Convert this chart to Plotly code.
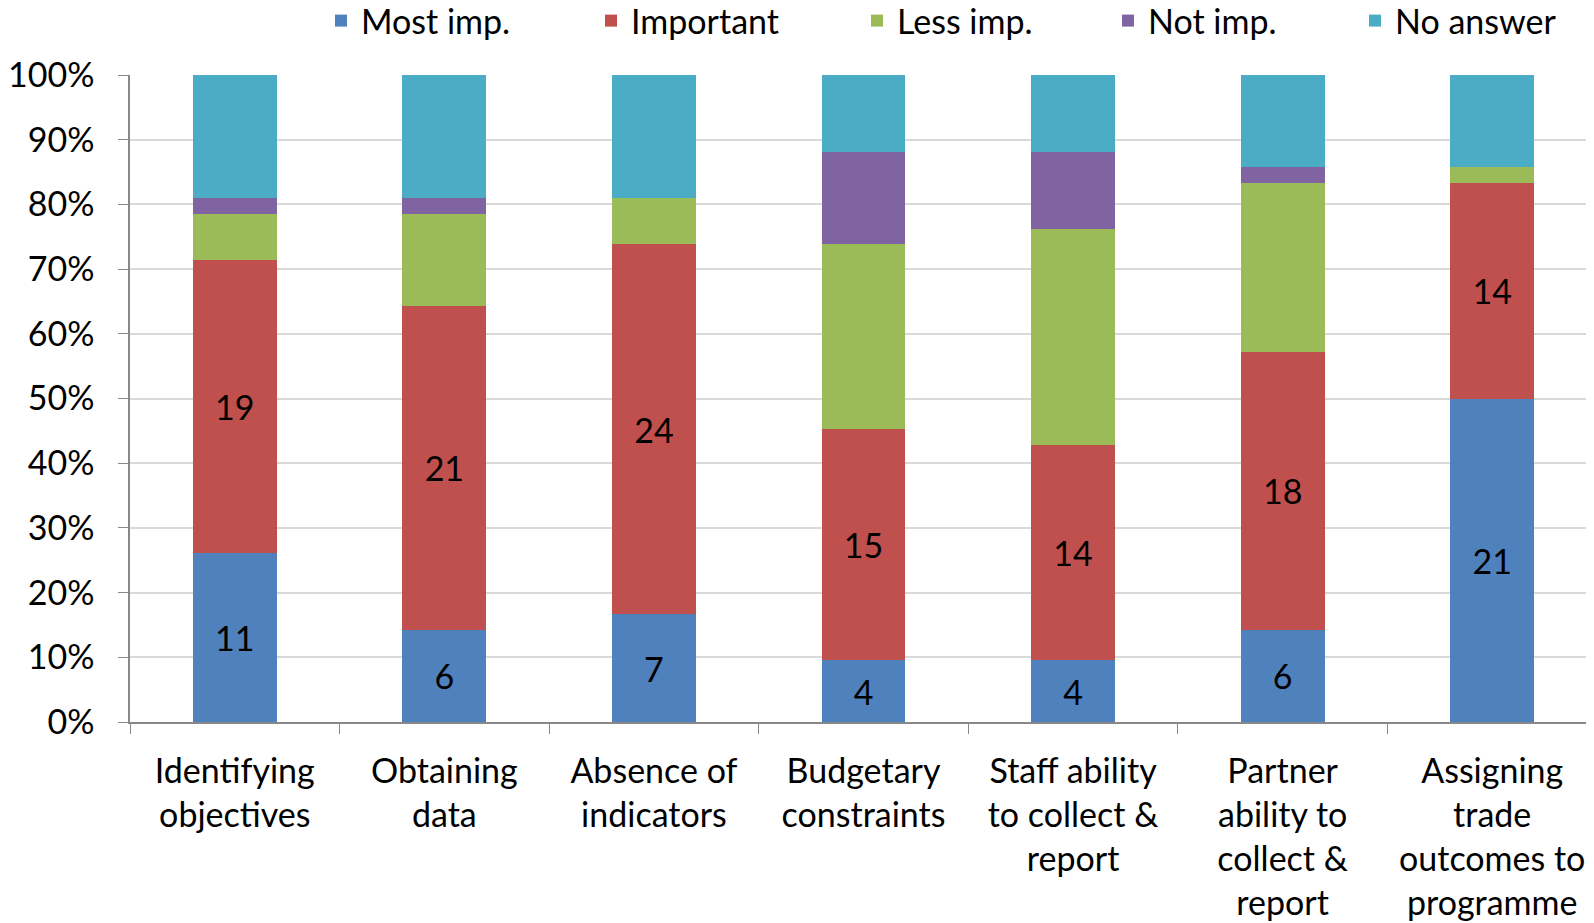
import plotly.graph_objects as go

categories = [
    "Identifying<br>objectives",
    "Obtaining<br>data",
    "Absence of<br>indicators",
    "Budgetary<br>constraints",
    "Staff ability<br>to collect &<br>report",
    "Partner<br>ability to<br>collect &<br>report",
    "Assigning<br>trade<br>outcomes to<br>programme",
]

most_imp = [11, 6, 7, 4, 4, 6, 21]
important = [19, 21, 24, 15, 14, 18, 14]
less_imp = [3, 6, 3, 12, 14, 11, 1]
not_imp = [1, 1, 0, 6, 5, 1, 0]
no_answer = [8, 8, 8, 5, 5, 6, 6]

series_names = ["Most imp.", "Important", "Less imp.", "Not imp.", "No answer"]
series_values = [most_imp, important, less_imp, not_imp, no_answer]
series_colors = ["#4F81BD", "#C0504D", "#9BBB59", "#8064A2", "#4BACC6"]
series_labelled = [True, True, False, False, False]

FONT = "Lato, Calibri, Carlito, sans-serif"
FS = 34
W, H = 1594, 923

# legend symbol centres (px) across the top
legend_centres = [331, 601, 867, 1118, 1365]
legend_ids = ["legend", "legend2", "legend3", "legend4", "legend5"]

fig = go.Figure()
for name, vals, color, show_lbl, lid in zip(series_names, series_values, series_colors,
                                            series_labelled, legend_ids):
    fig.add_trace(go.Bar(
        name=name,
        x=categories,
        y=vals,
        marker=dict(color=color, line=dict(width=0)),
        width=0.4,
        text=[str(v) for v in vals] if show_lbl else None,
        textposition="inside" if show_lbl else "none",
        insidetextanchor="middle",
        textangle=0,
        constraintext="none",
        textfont=dict(size=FS, color="black", family=FONT),
        legend=lid,
    ))

legend_layout = {}
for lid, cx in zip(legend_ids, legend_centres):
    legend_layout[lid] = dict(
        orientation="h",
        xref="container",
        yref="container",
        x=(cx - 18) / W,
        xanchor="left",
        y=1 - 13 / H,
        yanchor="middle",
        font=dict(size=FS, family=FONT, color="black"),
        bgcolor="rgba(0,0,0,0)",
        borderwidth=0,
    )

fig.update_layout(
    barmode="stack",
    barnorm="percent",
    width=W,
    height=H,
    margin=dict(l=122, r=5, t=67, b=209, autoexpand=False),
    plot_bgcolor="white",
    paper_bgcolor="white",
    font=dict(family=FONT, size=FS, color="black"),
    showlegend=True,
    **legend_layout,
)

fig.update_yaxes(
    range=[0, 100],
    dtick=10,
    ticksuffix="%",
    showgrid=True,
    gridcolor="#D9D9D9",
    gridwidth=1.5,
    showline=True,
    linecolor="#888888",
    linewidth=1.5,
    ticks="outside",
    ticklen=10,
    tickcolor="#888888",
    tickfont=dict(size=FS, family=FONT),
    ticklabelstandoff=17,
    zeroline=False,
)

fig.update_xaxes(
    showgrid=False,
    showline=True,
    linecolor="#888888",
    linewidth=1.5,
    ticks="outside",
    tickson="boundaries",
    ticklen=10,
    tickcolor="#888888",
    tickfont=dict(size=FS, family=FONT),
    ticklabelstandoff=18,
    tickangle=0,
)

fig.write_html("out.html")
